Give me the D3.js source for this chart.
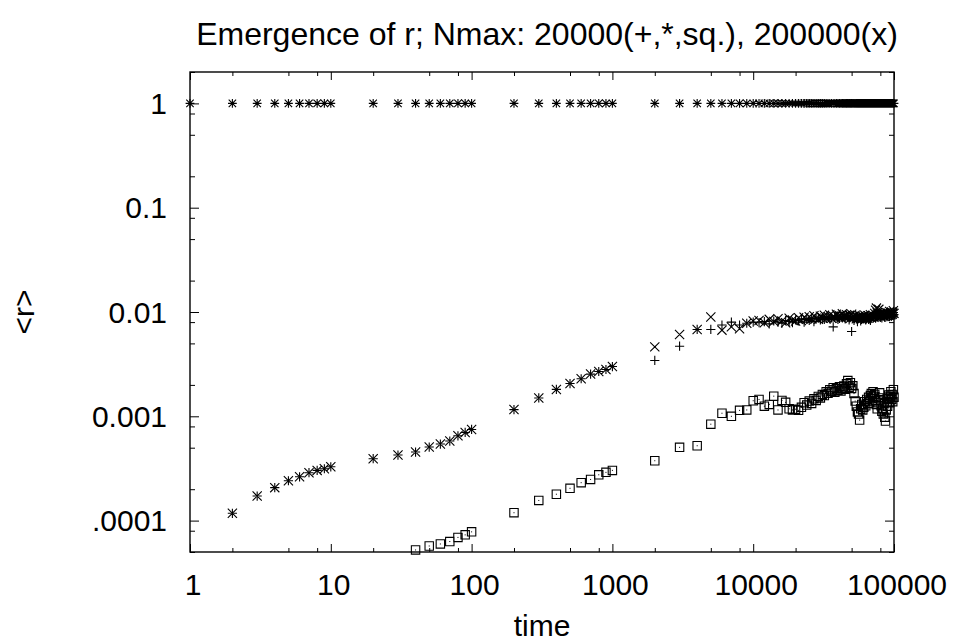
<!DOCTYPE html>
<html><head><meta charset="utf-8">
<script src="https://cdn.jsdelivr.net/npm/d3@7"></script>
<style>
body{margin:0;background:#fff}
svg{display:block}
text{font-family:"Liberation Sans",Arial,Helvetica,sans-serif;fill:#000}
</style>
</head><body>
<svg id="c" width="954" height="644"></svg>
<script>
// ---------- data ----------
const times = [1,2,3,4,5,6,7,8,9,10,
  20,30,40,50,60,70,80,90,100,
  200,300,400,500,600,700,800,900,1000,
  2000,3000,4000,5000,6000,7000,8000,9000,10000,
  11000,12000,13000,14000,15000,16000,17000,18000,19000,20000,
  21000,22000,23000,24000,25000,26000,27000,28000,29000,30000,
  31000,32000,33000,34000,35000,36000,37000,38000,39000,40000,
  41000,42000,43000,44000,45000,46000,47000,48000,49000,50000,
  51000,52000,53000,54000,55000,56000,57000,58000,59000,60000,
  61000,62000,63000,64000,65000,66000,67000,68000,69000,70000,
  71000,72000,73000,74000,75000,76000,77000,78000,79000,80000,
  81000,82000,83000,84000,85000,86000,87000,88000,89000,90000,
  91000,92000,93000,94000,95000,96000,97000,98000,99000,100000];

// "*" series (Nmax 20000)
const starVals = [1,1,1,1,1,1,1,1,1,1,
  1,1,1,1,1,1,1,1,1,
  1,1,1,1,1,1,1,1,1,
  1,1,1,1,1,1,1,1,1,
  1,1,1,1,1,1,1,1,1,1,
  1,1,1,1,1,1,1,1,1,1,
  1,1,1,1,1,1,1,1,1,1,
  1,1,1,1,1,1,1,1,1,1,
  1,1,1,1,1,1,1,1,1,1,
  1,1,1,1,1,1,1,1,1,1,
  1,1,1,1,1,1,1,1,1,1,
  1,1,1,1,1,1,1,1,1,1,
  1,1,1,1,1,1,1,1,1,1];

// "+" series (Nmax 20000)
const plusVals = [null,0.0001175,0.000172,0.000207,0.000241,0.000263,0.000288,0.000303,0.000314,0.000328,
  0.000392,0.000425,0.000454,0.000507,0.000542,0.000579,0.00065,0.0007,0.000748,
  0.00116,0.0015,0.00181,0.00206,0.00229,0.00254,0.00269,0.00281,0.003,
  0.00343,0.0047,0.0068,0.0068,0.0075,0.0080,0.0075,0.0078,0.0080,
  0.0079,0.0081,0.0077,0.0082,0.0080,0.0078,0.0083,0.0081,0.0079,0.0084,
  0.0082,0.0086,0.0080,0.0085,0.0083,0.0087,0.0081,0.0086,0.0088,0.0084,
  0.0089,0.0085,0.0087,0.0090,0.0086,0.0088,0.0072,0.0089,0.0091,0.0085,
  0.0087,0.0092,0.0088,0.0090,0.0086,0.0093,0.0089,0.0084,0.0091,0.0065,
  0.0088,0.0083,0.0090,0.0086,0.0081,0.0087,0.0089,0.0082,0.0085,0.0088,
  0.0086,0.0090,0.0084,0.0087,0.0091,0.0085,0.0088,0.0083,0.0089,0.0092,
  0.0087,0.0090,0.0094,0.0088,0.0096,0.0102,0.0093,0.0090,0.0095,0.0089,
  0.0092,0.0088,0.0094,0.0097,0.0091,0.0089,0.0095,0.0093,0.0090,0.0096,
  0.0092,0.0098,0.0090,0.0094,0.0097,0.0091,0.0095,0.0093,0.0099,0.0094];

// "x" series (Nmax 200000)
const crossVals = [null,0.0001175,0.000172,0.000207,0.000241,0.000263,0.000288,0.000303,0.000314,0.000328,
  0.000392,0.000425,0.000454,0.000507,0.000542,0.000579,0.00065,0.0007,0.000748,
  0.00116,0.0015,0.00181,0.00206,0.00229,0.00254,0.00269,0.00281,0.003,
  0.00463,0.00609,0.0068,0.00897,0.0067,0.0072,0.0069,0.0078,0.0082,
  0.0083,0.0079,0.0085,0.0081,0.0086,0.0082,0.0079,0.0087,0.0084,0.0082,
  0.0088,0.0083,0.0089,0.0085,0.0090,0.0086,0.0092,0.0087,0.0085,0.0091,
  0.0088,0.0093,0.0086,0.0090,0.0094,0.0087,0.0091,0.0089,0.0095,0.0090,
  0.0092,0.0088,0.0096,0.0091,0.0089,0.0094,0.0090,0.0093,0.0087,0.0095,
  0.0091,0.0088,0.0093,0.0086,0.0090,0.0087,0.0092,0.0089,0.0085,0.0091,
  0.0088,0.0093,0.0086,0.0090,0.0087,0.0092,0.0089,0.0094,0.0088,0.0091,
  0.0093,0.0089,0.0097,0.0104,0.0109,0.0098,0.0094,0.0106,0.0092,0.0096,
  0.0090,0.0095,0.0098,0.0093,0.0091,0.0097,0.0094,0.0099,0.0092,0.0095,
  0.0098,0.0093,0.0101,0.0096,0.0094,0.0100,0.0095,0.0098,0.0103,0.0097];

// "sq." series (Nmax 20000)
const boxVals = [null,null,null,null,null,null,null,null,null,null,
  null,null,0.0000523,0.0000571,0.0000597,0.000063,0.000069,0.000073,0.000078,
  0.000119,0.000156,0.000179,0.000204,0.000231,0.000248,0.000275,0.00029,0.000303,
  0.000375,0.000504,0.000522,0.00084,0.00107,0.0010,0.00114,0.00115,0.00141,
  0.00145,0.00125,0.00130,0.00156,0.00115,0.00142,0.00136,0.00118,0.00115,0.00117,
  0.00114,0.00122,0.00135,0.00128,0.00140,0.00133,0.00147,0.00142,0.00155,0.00150,
  0.00162,0.00158,0.00172,0.00166,0.00180,0.00174,0.00188,0.00170,0.00184,0.00178,
  0.00192,0.00175,0.00186,0.00195,0.00182,0.00205,0.00220,0.00190,0.00210,0.00185,
  0.00196,0.00165,0.00140,0.00125,0.00110,0.00105,0.00092,0.00118,0.00130,0.00115,
  0.00122,0.00138,0.00126,0.00145,0.00133,0.00152,0.00140,0.00158,0.00165,0.00148,
  0.00172,0.00155,0.00162,0.00140,0.00130,0.00118,0.00135,0.00150,0.00168,0.00144,
  0.00126,0.00112,0.00120,0.00105,0.00132,0.00098,0.00090,0.00115,0.00138,0.00125,
  0.00148,0.00160,0.00135,0.00155,0.00172,0.00145,0.00162,0.00138,0.00180,0.00152];

const xTickVals = [1,10,100,1000,10000,100000];
const xTickLabels = ["1","10","100","1000","10000","100000"];
const yTickVals = [1,0.1,0.01,0.001,0.0001];
const yTickLabels = ["1","0.1","0.01","0.001",".0001"];
const minorMults = [2,5,8];
const titleText = "Emergence of r; Nmax: 20000(+,*,sq.), 200000(x)";
const xLabelText = "time";
const yLabelText = "<r>";

// ---------- layout ----------
const L = 190, R = 894, T = 72, B = 552;
const svg = d3.select("#c");
const x = d3.scaleLog().domain([1, 100000]).range([L, R]);
const y = d3.scaleLog().domain([5e-5, 2]).range([B, T]);

const xMinor = [];
xTickVals.slice(0, -1).forEach(d => minorMults.forEach(m => xMinor.push(d * m)));
const yMinor = [];
[1e-5, 1e-4, 1e-3, 1e-2, 1e-1, 1].forEach(d => minorMults.forEach(m => {
  const v = d * m; if (v >= 5e-5 && v <= 2) yMinor.push(v);
}));

function addAxis(gen, tx, ty) {
  const g = svg.append("g").attr("transform", `translate(${tx},${ty})`).call(gen);
  g.select(".domain").remove();
  g.selectAll("text").remove();
  g.selectAll("line").attr("stroke", "#000").attr("stroke-width", 1);
  return g;
}
// major ticks (inward, all four sides)
addAxis(d3.axisBottom(x).tickValues(xTickVals).tickSize(-8), 0, B);
addAxis(d3.axisTop(x).tickValues(xTickVals).tickSize(-8), 0, T);
addAxis(d3.axisLeft(y).tickValues(yTickVals).tickSize(-9), L, 0);
addAxis(d3.axisRight(y).tickValues(yTickVals).tickSize(-9), R, 0);
// minor ticks
addAxis(d3.axisBottom(x).tickValues(xMinor).tickSize(-4), 0, B);
addAxis(d3.axisTop(x).tickValues(xMinor).tickSize(-4), 0, T);
addAxis(d3.axisLeft(y).tickValues(yMinor).tickSize(-5), L, 0);
addAxis(d3.axisRight(y).tickValues(yMinor).tickSize(-5), R, 0);

// frame
svg.append("rect").attr("x", L).attr("y", T).attr("width", R - L).attr("height", B - T)
  .attr("fill", "none").attr("stroke", "#000").attr("stroke-width", 1.4);

// tick labels
svg.append("g").selectAll("text").data(xTickVals).join("text")
  .attr("x", d => x(d) + 3).attr("y", 595)
  .attr("text-anchor", "middle").attr("font-size", 30)
  .text((d, i) => xTickLabels[i]);
svg.append("g").selectAll("text").data(yTickVals).join("text")
  .attr("x", 167).attr("y", d => y(d) + 10.7)
  .attr("text-anchor", "end").attr("font-size", 30)
  .text((d, i) => yTickLabels[i]);

// titles
svg.append("text").attr("x", 547).attr("y", 45).attr("text-anchor", "middle")
  .attr("font-size", 32).text(titleText);
svg.append("text").attr("x", 542).attr("y", 636).attr("text-anchor", "middle")
  .attr("font-size", 30).text(xLabelText);
svg.append("text").attr("transform", "translate(34,312) rotate(-90)")
  .attr("text-anchor", "middle").attr("font-size", 30).text(yLabelText);

// ---------- markers ----------
const S = 4.6, SB = 4.2;
function plusPath(px, py, s) { return `M${px - s},${py}H${px + s}M${px},${py - s}V${py + s}`; }
function crossPath(px, py, s) { return `M${px - s},${py - s}L${px + s},${py + s}M${px - s},${py + s}L${px + s},${py - s}`; }
function pts(vals) {
  return times.map((t, i) => ({ t, v: vals[i] }))
    .filter(d => d.v != null && d.v >= 5e-5 && d.v <= 2);
}
const gm = svg.append("g").attr("fill", "none").attr("stroke", "#000").attr("stroke-width", 1.1);

gm.append("path").attr("d", pts(starVals).map(d => plusPath(x(d.t), y(d.v), 4.4) + crossPath(x(d.t), y(d.v), 3.7)).join(""));
gm.append("path").attr("d", pts(plusVals).map(d => plusPath(x(d.t), y(d.v), S)).join(""));
gm.append("path").attr("d", pts(crossVals).map(d => crossPath(x(d.t), y(d.v), S)).join(""));
const bp = pts(boxVals);
gm.append("path").attr("d", bp.map(d => {
  const px = x(d.t), py = y(d.v);
  return `M${px - SB},${py - SB}H${px + SB}V${py + SB}H${px - SB}Z`;
}).join(""));
svg.append("g").selectAll("rect").data(bp).join("rect")
  .attr("x", d => x(d.t) - 0.5).attr("y", d => y(d.v) - 0.5)
  .attr("width", 1).attr("height", 1).attr("fill", "#000");
</script>
</body></html>
